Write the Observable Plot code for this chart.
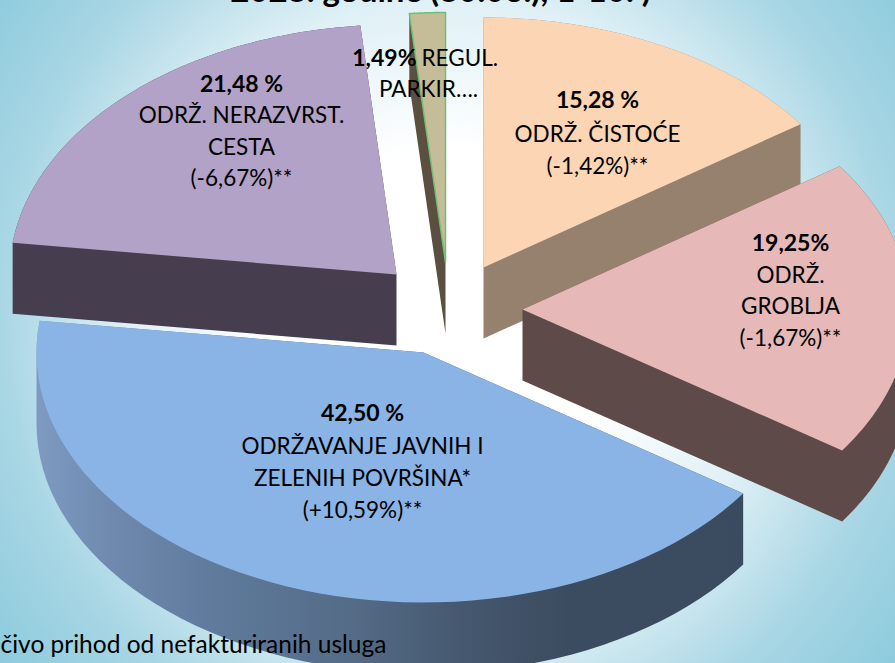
<!DOCTYPE html>
<html lang="hr">
<head>
<meta charset="utf-8">
<script src="https://cdn.jsdelivr.net/npm/d3@7"></script>
<script src="https://cdn.jsdelivr.net/npm/@observablehq/plot@0.6"></script>
<style>
  html, body { margin: 0; width: 895px; height: 663px; overflow: hidden; }
  body { background: radial-gradient(circle 565px at 450px 320px, #fff 0, #fff 30%, #dff0f6 57%, #a8d6e4 80%, #8ccbdd 100%); }
  svg { display: block; }
</style>
</head>
<body>
<script>
// ---- values ----
const names = ["ODRŽ. ČISTOĆE", "ODRŽ. GROBLJA", "ODRŽAVANJE JAVNIH I ZELENIH POVRŠINA*", "ODRŽ. NERAZVRST. CESTA", "REGUL. PARKIR…."];
const shares = [15.28, 19.25, 42.50, 21.48, 1.49];
const shareLabels = ["15,28 %", "19,25%", "42,50 %", "21,48 %", "1,49%"];
const changeLabels = ["(-1,42%)**", "(-1,67%)**", "(+10,59%)**", "(-6,67%)**", ""];
const titleText = "2023. godine (30.06.), 1-10. )";
const captionText = "čivo prihod od nefakturiranih usluga";

// ---- styling and layout (separate from the values) ----
const topColors = ["#fcd5b5", "#e6b9b8", "#8ab3e6", "#b3a2c7", "#c4bd97"];
const sideColors = ["#96806e", "#5e4a48", "url(#blueSide)", "#463e4e", "#5b4f40"];
const apexes = [[483, 267], [522, 309], [423, 352], [396, 274], [445, 262]];
const radiusX = 387, radiusY = 250, depth = 71;
const paintOrder = [3, 4, 0, 1, 2];
const textRows = [
  {t: shareLabels[3], x: 241, y: 84, b: 1}, {t: "ODRŽ. NERAZVRST.", x: 241, y: 115}, {t: "CESTA", x: 241, y: 147}, {t: changeLabels[3], x: 241, y: 178},
  {t: shareLabels[0], x: 597, y: 100, b: 1}, {t: names[0], x: 597, y: 134}, {t: changeLabels[0], x: 597, y: 166},
  {t: shareLabels[1], x: 790, y: 243, b: 1}, {t: "ODRŽ.", x: 790, y: 275}, {t: "GROBLJA", x: 790, y: 306}, {t: changeLabels[1], x: 790, y: 338},
  {t: shareLabels[2], x: 362, y: 413, b: 1}, {t: "ODRŽAVANJE JAVNIH I", x: 362, y: 446}, {t: "ZELENIH POVRŠINA*", x: 362, y: 478}, {t: changeLabels[2], x: 362, y: 510},
  {t: "PARKIR….", x: 428, y: 89}
];

// ---- geometry from the shares ----
const arcs = d3.pie().sort(null).startAngle(0).endAngle(2 * Math.PI)(shares);
function outline(i) {
  const [cx, cy] = apexes[i], a = arcs[i], n = 60, pts = [[cx, cy]];
  for (let k = 0; k <= n; k++) {
    const t = a.startAngle + (a.endAngle - a.startAngle) * k / n;
    pts.push([cx + radiusX * Math.sin(t), cy - radiusY * Math.cos(t)]);
  }
  return pts;
}
function sidePolygon(i) {
  const p = outline(i);
  return d3.polygonHull(p.concat(p.map(([x, y]) => [x, y + depth])));
}
const closed = p => p.concat([p[0]]);

const marks = [];
for (const i of paintOrder) {
  marks.push(Plot.line(closed(sidePolygon(i)), {x: d => d[0], y: d => d[1], fill: sideColors[i], stroke: "none", curve: "linear"}));
}
for (const i of paintOrder) {
  marks.push(Plot.line(closed(outline(i)), {
    x: d => d[0], y: d => d[1], fill: topColors[i],
    stroke: i === 4 ? "#6fbe78" : "none", strokeWidth: 1.5, curve: "linear"
  }));
}
const font = "Lato, 'Open Sans', sans-serif", fs = 22.5, fb = 23;
marks.push(Plot.text(textRows.filter(d => !d.b), {x: "x", y: "y", text: "t", fill: "#000", fontSize: fs, fontFamily: font}));
marks.push(Plot.text(textRows.filter(d => d.b), {x: "x", y: "y", text: "t", fill: "#000", fontSize: fb, fontWeight: "bold", fontFamily: font}));
marks.push(Plot.text([shareLabels[4]], {x: () => 416, y: () => 58, text: d => d, textAnchor: "end", fill: "#000", fontSize: fb, fontWeight: "bold", fontFamily: font}));
marks.push(Plot.text(["REGUL."], {x: () => 421, y: () => 58, text: d => d, textAnchor: "start", fill: "#000", fontSize: fs, fontFamily: font}));
marks.push(Plot.text([titleText], {x: () => 440, y: () => -9, text: d => d, fill: "#000", fontSize: 33, fontWeight: "bold", fontFamily: font}));
marks.push(Plot.text([captionText], {x: () => 0, y: () => 645, text: d => d, textAnchor: "start", fill: "#000", fontSize: 24.5, fontFamily: font}));

const chart = Plot.plot({
  width: 895, height: 663, margin: 0,
  x: {domain: [0, 895], range: [0, 895], axis: null},
  y: {domain: [0, 663], range: [0, 663], axis: null},
  style: {background: "transparent", overflow: "hidden"},
  marks
});
// shading of the blue slice's rim
const defs = d3.select(chart).insert("defs", ":first-child");
const grad = defs.append("linearGradient").attr("id", "blueSide").attr("gradientUnits", "userSpaceOnUse")
  .attr("x1", 38).attr("x2", 743).attr("y1", 0).attr("y2", 0);
[[0, "#7f9ac2"], [0.1, "#6f8aae"], [0.25, "#5f7a9b"], [0.45, "#546b86"], [0.6, "#45586f"], [0.75, "#3c4c60"], [1, "#3a4b60"]]
  .forEach(([o, c]) => grad.append("stop").attr("offset", o).attr("stop-color", c));
document.body.appendChild(chart);
</script>
</body>
</html>
